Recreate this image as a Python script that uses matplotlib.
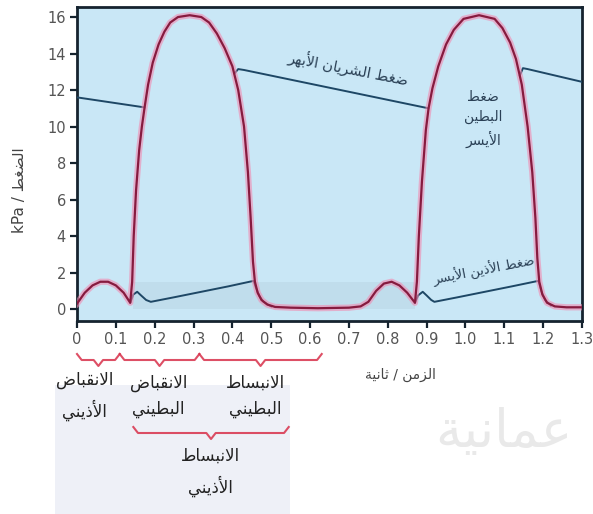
import matplotlib
matplotlib.use("Agg")
import matplotlib.pyplot as plt
import matplotlib.transforms as mtransforms
import numpy as np

# Arabic shaping by hand (matplotlib does not join Arabic letters)
FORMS = {
    'ا': (0xFE8D, False), 'أ': (0xFE83, False), 'ب': (0xFE8F, True),
    'ة': (0xFE93, False), 'ت': (0xFE95, True), 'ث': (0xFE99, True),
    'ج': (0xFE9D, True), 'ح': (0xFEA1, True), 'خ': (0xFEA5, True),
    'د': (0xFEA9, False), 'ذ': (0xFEAB, False), 'ر': (0xFEAD, False),
    'ز': (0xFEAF, False), 'س': (0xFEB1, True), 'ش': (0xFEB5, True),
    'ص': (0xFEB9, True), 'ض': (0xFEBD, True), 'ط': (0xFEC1, True),
    'ظ': (0xFEC5, True), 'ع': (0xFEC9, True), 'غ': (0xFECD, True),
    'ف': (0xFED1, True), 'ق': (0xFED5, True), 'ك': (0xFED9, True),
    'ل': (0xFEDD, True), 'م': (0xFEE1, True), 'ن': (0xFEE5, True),
    'ه': (0xFEE9, True), 'و': (0xFEED, False), 'ي': (0xFEF1, True),
    'لا': (0xFEFB, False), 'لأ': (0xFEF7, False),
}


def ar(s):
    """shape + reverse an arabic string for LTR drawing"""
    units = []
    i = 0
    while i < len(s):
        if s[i] == 'ل' and i + 1 < len(s) and s[i + 1] in 'اأ':
            units.append(s[i:i + 2])
            i += 2
        else:
            units.append(s[i])
            i += 1
    out = []
    for k, u in enumerate(units):
        if u not in FORMS:
            out.append(u)
            continue
        base, dual = FORMS[u]
        prev = units[k - 1] if k > 0 else None
        nxt = units[k + 1] if k + 1 < len(units) else None
        jp = prev in FORMS and FORMS[prev][1]
        jn = dual and nxt in FORMS
        f = 3 if (jp and jn) else 1 if jp else 2 if jn else 0
        out.append(chr(base + f))
    return ''.join(out)[::-1]


# ---- data (time in s, pressure in kPa) ----
lv_t = [0.00, 0.02, 0.04, 0.06, 0.08, 0.10, 0.12, 0.137, 0.142, 0.146, 0.152,
        0.16, 0.167, 0.174, 0.183, 0.195, 0.21, 0.225, 0.24, 0.26, 0.29, 0.32,
        0.34, 0.36, 0.38, 0.40, 0.415, 0.43, 0.44, 0.447, 0.453, 0.458, 0.465,
        0.475, 0.49, 0.51, 0.55, 0.62, 0.70, 0.73, 0.75, 0.77, 0.79, 0.81,
        0.83, 0.85, 0.87, 0.875, 0.88, 0.888, 0.898, 0.905, 0.915, 0.93, 0.95,
        0.97, 0.995, 1.035, 1.075, 1.095, 1.115, 1.13, 1.145, 1.16, 1.172,
        1.18, 1.185, 1.19, 1.198, 1.21, 1.23, 1.26, 1.30]
lv_p = [0.3, 0.9, 1.3, 1.5, 1.5, 1.3, 0.9, 0.35, 1.5, 4.0, 6.5,
        8.7, 10.0, 11.05, 12.3, 13.5, 14.5, 15.2, 15.7, 16.0, 16.1, 16.0,
        15.7, 15.1, 14.3, 13.3, 12.0, 10.0, 7.5, 5.0, 2.6, 1.5, 0.9,
        0.5, 0.25, 0.12, 0.08, 0.05, 0.08, 0.15, 0.4, 1.0, 1.4, 1.5,
        1.3, 0.9, 0.35, 1.5, 4.0, 7.0, 9.8, 11.0, 12.1, 13.3, 14.5,
        15.3, 15.9, 16.1, 15.9, 15.4, 14.6, 13.7, 12.3, 10.0, 7.5,
        5.0, 2.8, 1.5, 0.8, 0.35, 0.15, 0.1, 0.1]

# left atrium, only where it leaves the ventricle curve
la_t = [0.137, 0.145, 0.155, 0.165, 0.178, 0.19, 0.25, 0.32, 0.39, 0.455,
        0.46, 0.47, 0.48, 0.50, np.nan,
        0.87, 0.878, 0.89, 0.90, 0.912, 0.92, 0.98, 1.05, 1.12, 1.188,
        1.195, 1.205, 1.22]
la_p = [0.35, 0.8, 0.95, 0.75, 0.5, 0.4, 0.65, 0.95, 1.25, 1.55,
        1.2, 0.7, 0.4, 0.15, np.nan,
        0.35, 0.75, 0.95, 0.75, 0.5, 0.4, 0.65, 0.95, 1.25, 1.55,
        1.0, 0.5, 0.2]

# aorta, only where it leaves the ventricle curve
ao_t = [0.0, 0.174, np.nan, 0.405, 0.415, 0.43, 0.905, np.nan,
        1.14, 1.148, 1.16, 1.30]
ao_p = [11.6, 11.05, np.nan, 12.9, 13.15, 13.1, 11.0, np.nan,
        12.8, 13.2, 13.15, 12.45]

x_ticks = [0, 0.1, 0.2, 0.3, 0.4, 0.5, 0.6, 0.7, 0.8, 0.9, 1.0, 1.1, 1.2, 1.3]
x_labels = ['0', '0.1', '0.2', '0.3', '0.4', '0.5', '0.6', '0.7', '0.8',
            '0.9', '1.0', '1.1', '1.2', '1.3']
y_ticks = [0, 2, 4, 6, 8, 10, 12, 14, 16]

# phases under the axis: (start, end, label centre, label lines)
phases_top = [(0.0, 0.11, 0.02, ['الانقباض', 'الأذيني']),
              (0.11, 0.315, 0.21, ['الانقباض', 'البطيني']),
              (0.315, 0.63, 0.46, ['الانبساط', 'البطيني'])]
phases_low = [(0.145, 0.545, 0.343, ['الانبساط', 'الأذيني'])]

plt.rcParams['font.family'] = ['DejaVu Sans']

fig = plt.figure(figsize=(5.93, 5.14), dpi=100)

# light panel behind the phase labels
fig.patches.append(plt.Rectangle((55 / 593, 0), 235 / 593, 1 - 385 / 514,
                                 transform=fig.transFigure,
                                 facecolor='#eef0f7', edgecolor='none', zorder=0))
fig.text(0.85, 0.16, ar('عمانية'), fontsize=38, color='#e9e9e9',
         ha='center', va='center', zorder=0)

ax = fig.add_axes([77 / 593, 1 - 321 / 514, 505 / 593, 314 / 514])
ax.set_facecolor('#c9e7f6')
ax.set_xlim(0, 1.3)
ax.set_ylim(-0.65, 16.55)

# greyish band at the bottom
ax.fill_between([0.145, 0.87], 0, 1.5, color='#b3cfdd', alpha=0.4,
                linewidth=0, zorder=1)

ax.plot(ao_t, ao_p, color='#1e4765', lw=1.4, zorder=3)
ax.plot(la_t, la_p, color='#1e4765', lw=1.4, zorder=3)
ax.plot(lv_t, lv_p, color='#f28ab0', lw=4.5, alpha=0.6, zorder=4,
        solid_joinstyle='round')
ax.plot(lv_t, lv_p, color='#861b3f', lw=1.6, zorder=5)

# labels on the curves
ax.text(0.70, 13.2, ar('ضغط الشريان الأبهر'), fontsize=10.5, color='#2a4055',
        rotation=-11, ha='center', va='center', zorder=6)
ax.text(1.046, 10.4, ar('ضغط') + '\n' + ar('البطين') + '\n' + ar('الأيسر'),
        fontsize=10, color='#2a4055', ha='center', va='center',
        linespacing=1.5, zorder=6)
ax.text(1.046, 2.15, ar('ضغط الأذين الأيسر'), fontsize=9.5, color='#2a4055',
        rotation=11, ha='center', va='center', zorder=6)

for s in ax.spines.values():
    s.set_color('#15232f')
    s.set_linewidth(2)
ax.set_xticks(x_ticks)
ax.set_xticklabels(x_labels)
ax.set_yticks(y_ticks)
ax.tick_params(direction='out', length=5, width=1.6, color='#15232f',
               labelsize=10.5, labelcolor='#555555', pad=3)

fig.text(20 / 593, 1 - 190 / 514, 'kPa / ' + ar('الضغط'), rotation=90,
         fontsize=11, color='#444444', ha='center', va='center')
fig.text(400 / 593, 1 - 375 / 514, ar('الزمن / ثانية'),
         fontsize=10, color='#444444', ha='center', va='center')

# red curly braces for the phases
trans = mtransforms.blended_transform_factory(ax.transData, fig.transFigure)


def brace(x0, x1, ypix):
    y = 1 - ypix / 514
    d = 6 / 514
    xm = (x0 + x1) / 2
    e = 0.012
    xs = [x0, x0 + e, xm - e, xm, xm + e, x1 - e, x1]
    ys = [y + d, y, y, y - d, y, y, y + d]
    fig.add_artist(plt.Line2D(xs, ys, transform=trans, color='#d8304a',
                              lw=1.5, alpha=0.85))


for x0, x1, xl, lines in phases_top:
    brace(x0, x1, 360)
    fig.text(xl, 1 - 396 / 514, ar(lines[0]) + '\n' + ar(lines[1]),
             transform=trans, fontsize=12, color='#222222', ha='center',
             va='center', linespacing=1.6)
for x0, x1, xl, lines in phases_low:
    brace(x0, x1, 433)
    fig.text(xl, 1 - 472 / 514, ar(lines[0]) + '\n' + ar(lines[1]),
             transform=trans, fontsize=12, color='#222222', ha='center',
             va='center', linespacing=1.6)

plt.savefig("out.png", dpi=100)
